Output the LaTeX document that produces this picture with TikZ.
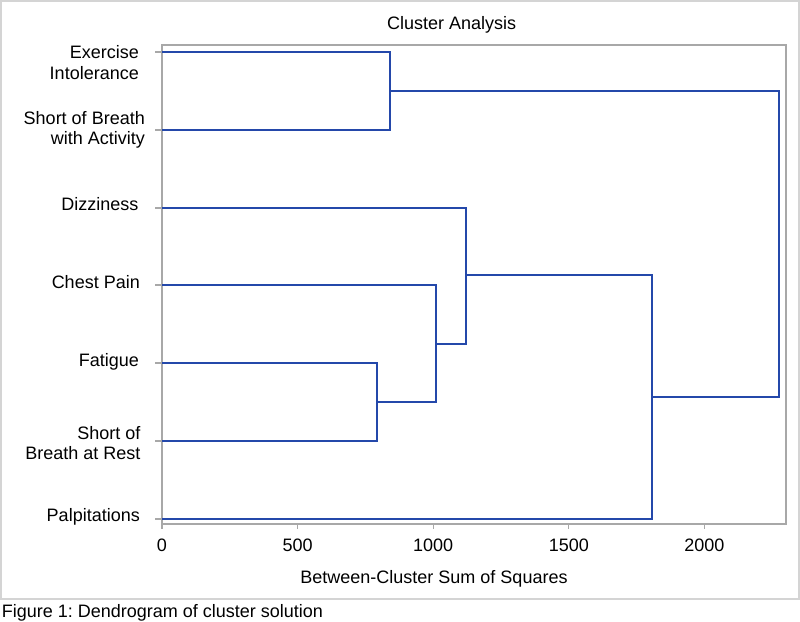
\documentclass[tikz,border=0pt]{standalone}
\usepackage{fontspec}
\setmainfont{Liberation Sans}
\usetikzlibrary{positioning}
\definecolor{dendroblue}{HTML}{2448AA}
\definecolor{axisgray}{HTML}{A8A8A8}
\definecolor{framegray}{HTML}{D4D4D4}
\frenchspacing
\tikzset{
  plaintext/.style={inner sep=0pt,font=\fontsize{18}{20.3}\selectfont},
  leaflabel/.style={plaintext,anchor=base east},
  leaflabeltwo/.style={plaintext,anchor=north east,align=right},
  ticklabel/.style={plaintext,anchor=north},
  branch/.style={draw=dendroblue,line width=2pt},
  axisline/.style={draw=axisgray,line width=1.5pt},
  tickmark/.style={draw=axisgray,line width=1.2pt}
}
\begin{document}
\begin{tikzpicture}[x=1pt,y=-1pt]
  \useasboundingbox (0,0) rectangle (800,621);
  \draw[framegray,line width=1.5pt] (1,1) rectangle (799,599);
  \node[plaintext,anchor=base] (title) at (451.7,29.3) {Cluster Analysis};
  \draw[axisline] (162,45) rectangle (786,524);

  % leaves
  \coordinate (leafE) at (162,52);
  \coordinate (leafSA) at (162,130);
  \coordinate (leafD) at (162,208);
  \coordinate (leafC) at (162,285);
  \coordinate (leafF) at (162,363);
  \coordinate (leafSR) at (162,441);
  \coordinate (leafP) at (162,519);
  \foreach \leaf in {leafE,leafSA,leafD,leafC,leafF,leafSR,leafP}
    \draw[tickmark] (\leaf) -- ++(-7.5,0);

  \node[leaflabeltwo] (labE) at (139,45.5) {Exercise\\Intolerance};
  \node[leaflabeltwo] (labSA) at (145,111) {Short of Breath\\with Activity};
  \node[leaflabel] (labD) at (138.5,210.4) {Dizziness};
  \node[leaflabel] (labC) at (140,288.2) {Chest Pain};
  \node[leaflabel] (labF) at (139,366) {Fatigue};
  \node[leaflabeltwo] (labSR) at (140.7,426) {Short of\\Breath at Rest};
  \node[leaflabel] (labP) at (140,521.7) {Palpitations};

  % merges
  \coordinate (mEA) at (390,91);
  \coordinate (mFR) at (377,402);
  \coordinate (mCFR) at (436,344);
  \coordinate (mDCFR) at (466,275);
  \coordinate (mDP) at (652,397);
  \coordinate (mTop) at (779,244);
  \draw[branch] (leafE) -| (mEA) |- (leafSA);
  \draw[branch] (leafF) -| (mFR) |- (leafSR);
  \draw[branch] (leafC) -| (mCFR) |- (mFR);
  \draw[branch] (leafD) -| (mDCFR) |- (mCFR);
  \draw[branch] (mDCFR) -| (mDP) |- (leafP);
  \draw[branch] (mEA) -| (mTop) |- (mDP);

  % x axis
  \foreach \val [count=\i from 0] in {0,500,1000,1500,2000} {
    \coordinate (tick\i) at (162+135.6*\i,524);
    \draw[tickmark] (tick\i) -- ++(0,5);
    \node[ticklabel] (tl\i) at (162+135.6*\i,539) {\val};
  }
  \node[plaintext,anchor=base] (xlabel) at (434,583.5) {Between-Cluster Sum of Squares};
  \node[plaintext,anchor=base west] (caption) at (1.7,617) {Figure 1: Dendrogram of cluster solution};
\end{tikzpicture}
\end{document}
